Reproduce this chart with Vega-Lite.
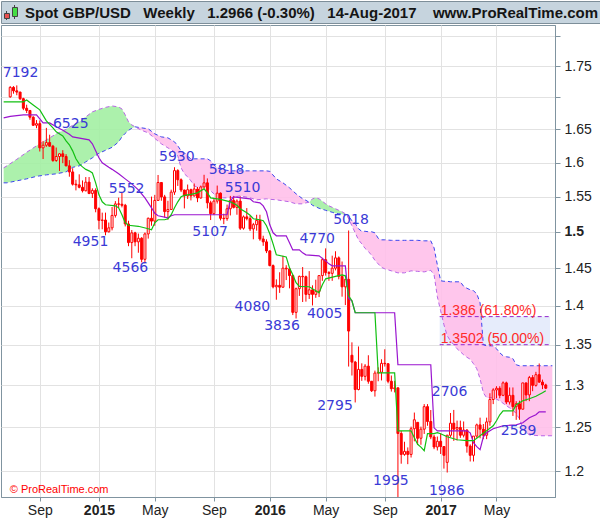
{
  "$schema": "https://vega.github.io/schema/vega-lite/v6.json",
  "padding": 0,
  "spacing": 0,
  "background": "white",
  "config": {
    "view": {"stroke": "#8094a0"},
    "axis": {"labelFont": "Liberation Sans", "labelFontSize": 14, "labelColor": "#222222", "gridColor": "#e2e2e2", "domainColor": "#8094a0", "tickColor": "#8094a0", "title": null}
  },
  "datasets": {
    "candles": [
      {"d":"2014-06-30","o":1.7010,"h":1.7180,"l":1.6995,"c":1.7160},
      {"d":"2014-07-07","o":1.7160,"h":1.7180,"l":1.7060,"c":1.7105},
      {"d":"2014-07-14","o":1.7105,"h":1.7192,"l":1.7035,"c":1.7085},
      {"d":"2014-07-21","o":1.7085,"h":1.7090,"l":1.6960,"c":1.6980},
      {"d":"2014-07-28","o":1.6980,"h":1.6995,"l":1.6800,"c":1.6830},
      {"d":"2014-08-04","o":1.6830,"h":1.6885,"l":1.6755,"c":1.6795},
      {"d":"2014-08-11","o":1.6795,"h":1.6795,"l":1.6650,"c":1.6690},
      {"d":"2014-08-18","o":1.6690,"h":1.6705,"l":1.6555,"c":1.6565},
      {"d":"2014-08-25","o":1.6565,"h":1.6645,"l":1.6520,"c":1.6590},
      {"d":"2014-09-01","o":1.6590,"h":1.6640,"l":1.6165,"c":1.6220},
      {"d":"2014-09-08","o":1.6220,"h":1.6325,"l":1.6052,"c":1.6260},
      {"d":"2014-09-15","o":1.6260,"h":1.6525,"l":1.6235,"c":1.6300},
      {"d":"2014-09-22","o":1.6300,"h":1.6420,"l":1.6240,"c":1.6245},
      {"d":"2014-09-29","o":1.6245,"h":1.6265,"l":1.6010,"c":1.6030},
      {"d":"2014-10-06","o":1.6030,"h":1.6225,"l":1.6010,"c":1.6090},
      {"d":"2014-10-13","o":1.6090,"h":1.6140,"l":1.5875,"c":1.6130},
      {"d":"2014-10-20","o":1.6130,"h":1.6185,"l":1.5990,"c":1.6090},
      {"d":"2014-10-27","o":1.6090,"h":1.6125,"l":1.5945,"c":1.5950},
      {"d":"2014-11-03","o":1.5950,"h":1.6035,"l":1.5790,"c":1.5860},
      {"d":"2014-11-10","o":1.5860,"h":1.5915,"l":1.5660,"c":1.5680},
      {"d":"2014-11-17","o":1.5680,"h":1.5745,"l":1.5590,"c":1.5670},
      {"d":"2014-11-24","o":1.5670,"h":1.5825,"l":1.5620,"c":1.5635},
      {"d":"2014-12-01","o":1.5635,"h":1.5735,"l":1.5560,"c":1.5585},
      {"d":"2014-12-08","o":1.5585,"h":1.5785,"l":1.5575,"c":1.5710},
      {"d":"2014-12-15","o":1.5710,"h":1.5785,"l":1.5535,"c":1.5545},
      {"d":"2014-12-22","o":1.5545,"h":1.5620,"l":1.5480,"c":1.5590},
      {"d":"2014-12-29","o":1.5590,"h":1.5620,"l":1.5275,"c":1.5325},
      {"d":"2015-01-05","o":1.5325,"h":1.5345,"l":1.5035,"c":1.5160},
      {"d":"2015-01-12","o":1.5160,"h":1.5270,"l":1.5035,"c":1.5165},
      {"d":"2015-01-19","o":1.5165,"h":1.5270,"l":1.4951,"c":1.5000},
      {"d":"2015-01-26","o":1.5000,"h":1.5130,"l":1.4990,"c":1.5055},
      {"d":"2015-02-02","o":1.5055,"h":1.5350,"l":1.5020,"c":1.5230},
      {"d":"2015-02-09","o":1.5230,"h":1.5435,"l":1.5200,"c":1.5395},
      {"d":"2015-02-16","o":1.5395,"h":1.5485,"l":1.5335,"c":1.5390},
      {"d":"2015-02-23","o":1.5390,"h":1.5552,"l":1.5345,"c":1.5375},
      {"d":"2015-03-02","o":1.5375,"h":1.5395,"l":1.5075,"c":1.5110},
      {"d":"2015-03-09","o":1.5110,"h":1.5155,"l":1.4800,"c":1.4850},
      {"d":"2015-03-16","o":1.4850,"h":1.5025,"l":1.4635,"c":1.4985},
      {"d":"2015-03-23","o":1.4985,"h":1.5000,"l":1.4800,"c":1.4860},
      {"d":"2015-03-30","o":1.4860,"h":1.4975,"l":1.4710,"c":1.4910},
      {"d":"2015-04-06","o":1.4910,"h":1.4925,"l":1.4580,"c":1.4620},
      {"d":"2015-04-13","o":1.4620,"h":1.4990,"l":1.4566,"c":1.4970},
      {"d":"2015-04-20","o":1.4970,"h":1.5200,"l":1.4905,"c":1.5190},
      {"d":"2015-04-27","o":1.5190,"h":1.5500,"l":1.5085,"c":1.5150},
      {"d":"2015-05-04","o":1.5150,"h":1.5525,"l":1.5085,"c":1.5445},
      {"d":"2015-05-11","o":1.5445,"h":1.5815,"l":1.5440,"c":1.5705},
      {"d":"2015-05-18","o":1.5705,"h":1.5710,"l":1.5440,"c":1.5495},
      {"d":"2015-05-25","o":1.5495,"h":1.5525,"l":1.5200,"c":1.5285},
      {"d":"2015-06-01","o":1.5285,"h":1.5440,"l":1.5170,"c":1.5315},
      {"d":"2015-06-08","o":1.5315,"h":1.5600,"l":1.5310,"c":1.5565},
      {"d":"2015-06-15","o":1.5565,"h":1.5930,"l":1.5525,"c":1.5880},
      {"d":"2015-06-22","o":1.5880,"h":1.5900,"l":1.5655,"c":1.5745},
      {"d":"2015-06-29","o":1.5745,"h":1.5765,"l":1.5565,"c":1.5595},
      {"d":"2015-07-06","o":1.5595,"h":1.5600,"l":1.5330,"c":1.5510},
      {"d":"2015-07-13","o":1.5510,"h":1.5675,"l":1.5465,"c":1.5600},
      {"d":"2015-07-20","o":1.5600,"h":1.5615,"l":1.5445,"c":1.5510},
      {"d":"2015-07-27","o":1.5510,"h":1.5690,"l":1.5500,"c":1.5610},
      {"d":"2015-08-03","o":1.5610,"h":1.5640,"l":1.5420,"c":1.5480},
      {"d":"2015-08-10","o":1.5480,"h":1.5660,"l":1.5470,"c":1.5640},
      {"d":"2015-08-17","o":1.5640,"h":1.5818,"l":1.5615,"c":1.5700},
      {"d":"2015-08-24","o":1.5700,"h":1.5765,"l":1.5330,"c":1.5410},
      {"d":"2015-08-31","o":1.5410,"h":1.5440,"l":1.5165,"c":1.5255},
      {"d":"2015-09-07","o":1.5255,"h":1.5465,"l":1.5235,"c":1.5435},
      {"d":"2015-09-14","o":1.5435,"h":1.5660,"l":1.5400,"c":1.5550},
      {"d":"2015-09-21","o":1.5550,"h":1.5560,"l":1.5160,"c":1.5190},
      {"d":"2015-09-28","o":1.5190,"h":1.5255,"l":1.5107,"c":1.5185},
      {"d":"2015-10-05","o":1.5185,"h":1.5385,"l":1.5155,"c":1.5325},
      {"d":"2015-10-12","o":1.5325,"h":1.5510,"l":1.5230,"c":1.5445},
      {"d":"2015-10-19","o":1.5445,"h":1.5510,"l":1.5330,"c":1.5345},
      {"d":"2015-10-26","o":1.5345,"h":1.5460,"l":1.5240,"c":1.5435},
      {"d":"2015-11-02","o":1.5435,"h":1.5505,"l":1.5025,"c":1.5050},
      {"d":"2015-11-09","o":1.5050,"h":1.5230,"l":1.5030,"c":1.5210},
      {"d":"2015-11-16","o":1.5210,"h":1.5335,"l":1.5160,"c":1.5185},
      {"d":"2015-11-23","o":1.5185,"h":1.5225,"l":1.5010,"c":1.5040},
      {"d":"2015-11-30","o":1.5040,"h":1.5125,"l":1.4895,"c":1.5100},
      {"d":"2015-12-07","o":1.5100,"h":1.5240,"l":1.5015,"c":1.5160},
      {"d":"2015-12-14","o":1.5160,"h":1.5240,"l":1.4875,"c":1.4900},
      {"d":"2015-12-21","o":1.4900,"h":1.4945,"l":1.4805,"c":1.4860},
      {"d":"2015-12-28","o":1.4860,"h":1.4895,"l":1.4705,"c":1.4735},
      {"d":"2016-01-04","o":1.4735,"h":1.4745,"l":1.4525,"c":1.4535},
      {"d":"2016-01-11","o":1.4535,"h":1.4550,"l":1.4230,"c":1.4250},
      {"d":"2016-01-18","o":1.4250,"h":1.4350,"l":1.4080,"c":1.4270},
      {"d":"2016-01-25","o":1.4270,"h":1.4445,"l":1.4170,"c":1.4245},
      {"d":"2016-02-01","o":1.4245,"h":1.4668,"l":1.4240,"c":1.4500},
      {"d":"2016-02-08","o":1.4500,"h":1.4540,"l":1.4340,"c":1.4490},
      {"d":"2016-02-15","o":1.4490,"h":1.4495,"l":1.4230,"c":1.4400},
      {"d":"2016-02-22","o":1.4400,"h":1.4410,"l":1.3880,"c":1.3915},
      {"d":"2016-02-29","o":1.3915,"h":1.4240,"l":1.3836,"c":1.4225},
      {"d":"2016-03-07","o":1.4225,"h":1.4400,"l":1.4130,"c":1.4390},
      {"d":"2016-03-14","o":1.4390,"h":1.4515,"l":1.4050,"c":1.4385},
      {"d":"2016-03-21","o":1.4385,"h":1.4400,"l":1.4055,"c":1.4150},
      {"d":"2016-03-28","o":1.4150,"h":1.4460,"l":1.4090,"c":1.4210},
      {"d":"2016-04-04","o":1.4210,"h":1.4270,"l":1.4005,"c":1.4150},
      {"d":"2016-04-11","o":1.4150,"h":1.4345,"l":1.4105,"c":1.4190},
      {"d":"2016-04-18","o":1.4190,"h":1.4400,"l":1.4115,"c":1.4400},
      {"d":"2016-04-25","o":1.4400,"h":1.4640,"l":1.4330,"c":1.4615},
      {"d":"2016-05-02","o":1.4615,"h":1.4770,"l":1.4400,"c":1.4440},
      {"d":"2016-05-09","o":1.4440,"h":1.4460,"l":1.4330,"c":1.4430},
      {"d":"2016-05-16","o":1.4430,"h":1.4670,"l":1.4330,"c":1.4500},
      {"d":"2016-05-23","o":1.4500,"h":1.4730,"l":1.4470,"c":1.4640},
      {"d":"2016-05-30","o":1.4640,"h":1.4660,"l":1.4350,"c":1.4390},
      {"d":"2016-06-06","o":1.4390,"h":1.4590,"l":1.4120,"c":1.4250},
      {"d":"2016-06-13","o":1.4250,"h":1.4350,"l":1.4010,"c":1.4350},
      {"d":"2016-06-20","o":1.4350,"h":1.5018,"l":1.3230,"c":1.3675},
      {"d":"2016-06-27","o":1.3370,"h":1.3532,"l":1.3120,"c":1.3285},
      {"d":"2016-07-04","o":1.3285,"h":1.3300,"l":1.2795,"c":1.2950},
      {"d":"2016-07-11","o":1.2950,"h":1.3480,"l":1.2940,"c":1.3195},
      {"d":"2016-07-18","o":1.3195,"h":1.3270,"l":1.3055,"c":1.3110},
      {"d":"2016-07-25","o":1.3110,"h":1.3260,"l":1.3060,"c":1.3235},
      {"d":"2016-08-01","o":1.3235,"h":1.3370,"l":1.3020,"c":1.3050},
      {"d":"2016-08-08","o":1.3050,"h":1.3050,"l":1.2920,"c":1.2935},
      {"d":"2016-08-15","o":1.2935,"h":1.3180,"l":1.2865,"c":1.3150},
      {"d":"2016-08-22","o":1.3150,"h":1.3220,"l":1.3050,"c":1.3160},
      {"d":"2016-08-29","o":1.3160,"h":1.3320,"l":1.3060,"c":1.3270},
      {"d":"2016-09-05","o":1.3270,"h":1.3445,"l":1.3230,"c":1.3265},
      {"d":"2016-09-12","o":1.3265,"h":1.3270,"l":1.3025,"c":1.3050},
      {"d":"2016-09-19","o":1.3050,"h":1.3120,"l":1.2925,"c":1.2960},
      {"d":"2016-09-26","o":1.2960,"h":1.3055,"l":1.2915,"c":1.2970},
      {"d":"2016-10-03","o":1.2970,"h":1.2975,"l":1.1491,"c":1.2430},
      {"d":"2016-10-10","o":1.2430,"h":1.2460,"l":1.2085,"c":1.2190},
      {"d":"2016-10-17","o":1.2190,"h":1.2335,"l":1.2175,"c":1.2225},
      {"d":"2016-10-24","o":1.2225,"h":1.2270,"l":1.2080,"c":1.2190},
      {"d":"2016-10-31","o":1.2190,"h":1.2510,"l":1.2155,"c":1.2485},
      {"d":"2016-11-07","o":1.2485,"h":1.2675,"l":1.2340,"c":1.2590},
      {"d":"2016-11-14","o":1.2560,"h":1.2560,"l":1.2300,"c":1.2375},
      {"d":"2016-11-21","o":1.2375,"h":1.2510,"l":1.2300,"c":1.2480},
      {"d":"2016-11-28","o":1.2480,"h":1.2775,"l":1.2425,"c":1.2745},
      {"d":"2016-12-05","o":1.2745,"h":1.2775,"l":1.2520,"c":1.2570},
      {"d":"2016-12-12","o":1.2570,"h":1.2705,"l":1.2365,"c":1.2390},
      {"d":"2016-12-19","o":1.2390,"h":1.2415,"l":1.2250,"c":1.2275},
      {"d":"2016-12-26","o":1.2275,"h":1.2395,"l":1.2235,"c":1.2340},
      {"d":"2017-01-02","o":1.2340,"h":1.2430,"l":1.2195,"c":1.2280},
      {"d":"2017-01-09","o":1.2280,"h":1.2280,"l":1.2030,"c":1.2180},
      {"d":"2017-01-16","o":1.2100,"h":1.2415,"l":1.1986,"c":1.2410},
      {"d":"2017-01-23","o":1.2410,"h":1.2670,"l":1.2390,"c":1.2550},
      {"d":"2017-01-30","o":1.2550,"h":1.2706,"l":1.2345,"c":1.2480},
      {"d":"2017-02-06","o":1.2480,"h":1.2580,"l":1.2350,"c":1.2500},
      {"d":"2017-02-13","o":1.2500,"h":1.2580,"l":1.2380,"c":1.2410},
      {"d":"2017-02-20","o":1.2410,"h":1.2570,"l":1.2385,"c":1.2470},
      {"d":"2017-02-27","o":1.2470,"h":1.2480,"l":1.2210,"c":1.2285},
      {"d":"2017-03-06","o":1.2285,"h":1.2305,"l":1.2110,"c":1.2180},
      {"d":"2017-03-13","o":1.2180,"h":1.2400,"l":1.2110,"c":1.2400},
      {"d":"2017-03-20","o":1.2400,"h":1.2545,"l":1.2380,"c":1.2530},
      {"d":"2017-03-27","o":1.2530,"h":1.2615,"l":1.2375,"c":1.2480},
      {"d":"2017-04-03","o":1.2480,"h":1.2540,"l":1.2365,"c":1.2410},
      {"d":"2017-04-10","o":1.2410,"h":1.2615,"l":1.2365,"c":1.2565},
      {"d":"2017-04-17","o":1.2565,"h":1.2905,"l":1.2520,"c":1.2830},
      {"d":"2017-04-24","o":1.2830,"h":1.2965,"l":1.2775,"c":1.2945},
      {"d":"2017-05-01","o":1.2945,"h":1.2990,"l":1.2845,"c":1.2965},
      {"d":"2017-05-08","o":1.2965,"h":1.2990,"l":1.2845,"c":1.2880},
      {"d":"2017-05-15","o":1.2880,"h":1.3048,"l":1.2870,"c":1.3030},
      {"d":"2017-05-22","o":1.3030,"h":1.3045,"l":1.2775,"c":1.2800},
      {"d":"2017-05-29","o":1.2800,"h":1.2975,"l":1.2770,"c":1.2880},
      {"d":"2017-06-05","o":1.2880,"h":1.2975,"l":1.2635,"c":1.2745},
      {"d":"2017-06-12","o":1.2745,"h":1.2810,"l":1.2589,"c":1.2780},
      {"d":"2017-06-19","o":1.2780,"h":1.2815,"l":1.2590,"c":1.2715},
      {"d":"2017-06-26","o":1.2715,"h":1.3030,"l":1.2710,"c":1.3030},
      {"d":"2017-07-03","o":1.3030,"h":1.3030,"l":1.2810,"c":1.2885},
      {"d":"2017-07-10","o":1.2885,"h":1.3115,"l":1.2810,"c":1.3095},
      {"d":"2017-07-17","o":1.3095,"h":1.3125,"l":1.2930,"c":1.3000},
      {"d":"2017-07-24","o":1.3000,"h":1.3165,"l":1.2985,"c":1.3130},
      {"d":"2017-07-31","o":1.3130,"h":1.3268,"l":1.3030,"c":1.3040},
      {"d":"2017-08-07","o":1.3040,"h":1.3070,"l":1.2955,"c":1.3005},
      {"d":"2017-08-14","o":1.3005,"h":1.3020,"l":1.2955,"c":1.2966}
    ],
    "cloud": [
      {"d":"2014-06-16","a":1.5921,"b":1.5700,"seg":"g1","kind":"up"},
      {"d":"2014-06-23","a":1.5950,"b":1.5700,"seg":"g1","kind":"up"},
      {"d":"2014-07-14","a":1.6048,"b":1.5729,"seg":"g1","kind":"up"},
      {"d":"2014-08-04","a":1.6153,"b":1.5758,"seg":"g1","kind":"up"},
      {"d":"2014-08-25","a":1.6251,"b":1.5795,"seg":"g1","kind":"up"},
      {"d":"2014-09-15","a":1.6341,"b":1.5817,"seg":"g1","kind":"up"},
      {"d":"2014-10-06","a":1.6433,"b":1.5832,"seg":"g1","kind":"up"},
      {"d":"2014-10-27","a":1.6502,"b":1.5861,"seg":"g1","kind":"up"},
      {"d":"2014-11-10","a":1.6564,"b":1.5928,"seg":"g1","kind":"up"},
      {"d":"2014-11-24","a":1.6618,"b":1.5950,"seg":"g1","kind":"up"},
      {"d":"2014-12-08","a":1.6695,"b":1.6010,"seg":"g1","kind":"up"},
      {"d":"2014-12-22","a":1.6773,"b":1.6070,"seg":"g1","kind":"up"},
      {"d":"2015-01-05","a":1.6812,"b":1.6138,"seg":"g1","kind":"up"},
      {"d":"2015-01-19","a":1.6843,"b":1.6183,"seg":"g1","kind":"up"},
      {"d":"2015-02-02","a":1.6866,"b":1.6228,"seg":"g1","kind":"up"},
      {"d":"2015-02-16","a":1.6850,"b":1.6311,"seg":"g1","kind":"up"},
      {"d":"2015-02-23","a":1.6819,"b":1.6387,"seg":"g1","kind":"up"},
      {"d":"2015-03-02","a":1.6726,"b":1.6441,"seg":"g1","kind":"up"},
      {"d":"2015-03-09","a":1.6618,"b":1.6487,"seg":"g1","kind":"up"},
      {"d":"2015-03-16","a":1.6571,"b":1.6518,"seg":"g1","kind":"up"},
      {"d":"2015-03-23","a":1.6541,"b":1.6541,"seg":"g1","kind":"up"},
      {"d":"2015-03-23","a":1.6541,"b":1.6541,"seg":"p1","kind":"down"},
      {"d":"2015-04-06","a":1.6487,"b":1.6525,"seg":"p1","kind":"down"},
      {"d":"2015-04-20","a":1.6448,"b":1.6510,"seg":"p1","kind":"down"},
      {"d":"2015-05-04","a":1.6364,"b":1.6433,"seg":"p1","kind":"down"},
      {"d":"2015-05-18","a":1.6281,"b":1.6387,"seg":"p1","kind":"down"},
      {"d":"2015-06-01","a":1.6220,"b":1.6372,"seg":"p1","kind":"down"},
      {"d":"2015-06-15","a":1.6160,"b":1.6311,"seg":"p1","kind":"down"},
      {"d":"2015-06-22","a":1.6100,"b":1.6251,"seg":"p1","kind":"down"},
      {"d":"2015-06-29","a":1.5921,"b":1.6175,"seg":"p1","kind":"down"},
      {"d":"2015-07-06","a":1.5832,"b":1.6145,"seg":"p1","kind":"down"},
      {"d":"2015-07-13","a":1.5788,"b":1.6093,"seg":"p1","kind":"down"},
      {"d":"2015-07-20","a":1.5729,"b":1.6055,"seg":"p1","kind":"down"},
      {"d":"2015-07-27","a":1.5656,"b":1.6055,"seg":"p1","kind":"down"},
      {"d":"2015-08-03","a":1.5634,"b":1.6055,"seg":"p1","kind":"down"},
      {"d":"2015-08-10","a":1.5627,"b":1.6055,"seg":"p1","kind":"down"},
      {"d":"2015-08-17","a":1.5656,"b":1.6055,"seg":"p1","kind":"down"},
      {"d":"2015-08-24","a":1.5627,"b":1.6055,"seg":"p1","kind":"down"},
      {"d":"2015-08-31","a":1.5583,"b":1.6025,"seg":"p1","kind":"down"},
      {"d":"2015-09-07","a":1.5540,"b":1.5965,"seg":"p1","kind":"down"},
      {"d":"2015-09-14","a":1.5482,"b":1.5921,"seg":"p1","kind":"down"},
      {"d":"2015-09-28","a":1.5482,"b":1.5891,"seg":"p1","kind":"down"},
      {"d":"2015-10-12","a":1.5482,"b":1.5876,"seg":"p1","kind":"down"},
      {"d":"2015-11-02","a":1.5511,"b":1.5876,"seg":"p1","kind":"down"},
      {"d":"2015-11-23","a":1.5482,"b":1.5876,"seg":"p1","kind":"down"},
      {"d":"2015-12-07","a":1.5454,"b":1.5876,"seg":"p1","kind":"down"},
      {"d":"2015-12-28","a":1.5468,"b":1.5876,"seg":"p1","kind":"down"},
      {"d":"2016-01-04","a":1.5461,"b":1.5869,"seg":"p1","kind":"down"},
      {"d":"2016-01-18","a":1.5454,"b":1.5758,"seg":"p1","kind":"down"},
      {"d":"2016-02-01","a":1.5439,"b":1.5700,"seg":"p1","kind":"down"},
      {"d":"2016-02-15","a":1.5425,"b":1.5627,"seg":"p1","kind":"down"},
      {"d":"2016-02-29","a":1.5396,"b":1.5540,"seg":"p1","kind":"down"},
      {"d":"2016-03-14","a":1.5396,"b":1.5468,"seg":"p1","kind":"down"},
      {"d":"2016-03-21","a":1.5410,"b":1.5446,"seg":"p1","kind":"down"},
      {"d":"2016-03-28","a":1.5418,"b":1.5418,"seg":"p1","kind":"down"},
      {"d":"2016-03-28","a":1.5418,"b":1.5418,"seg":"g2","kind":"up"},
      {"d":"2016-04-04","a":1.5468,"b":1.5375,"seg":"g2","kind":"up"},
      {"d":"2016-04-11","a":1.5482,"b":1.5353,"seg":"g2","kind":"up"},
      {"d":"2016-04-18","a":1.5468,"b":1.5332,"seg":"g2","kind":"up"},
      {"d":"2016-04-25","a":1.5432,"b":1.5318,"seg":"g2","kind":"up"},
      {"d":"2016-05-02","a":1.5396,"b":1.5303,"seg":"g2","kind":"up"},
      {"d":"2016-05-09","a":1.5367,"b":1.5289,"seg":"g2","kind":"up"},
      {"d":"2016-05-16","a":1.5346,"b":1.5275,"seg":"g2","kind":"up"},
      {"d":"2016-05-23","a":1.5325,"b":1.5261,"seg":"g2","kind":"up"},
      {"d":"2016-05-30","a":1.5303,"b":1.5254,"seg":"g2","kind":"up"},
      {"d":"2016-06-06","a":1.5282,"b":1.5247,"seg":"g2","kind":"up"},
      {"d":"2016-06-13","a":1.5254,"b":1.5240,"seg":"g2","kind":"up"},
      {"d":"2016-06-16","a":1.5240,"b":1.5240,"seg":"g2","kind":"up"},
      {"d":"2016-06-16","a":1.5240,"b":1.5240,"seg":"p2","kind":"down"},
      {"d":"2016-06-20","a":1.5183,"b":1.5219,"seg":"p2","kind":"down"},
      {"d":"2016-06-27","a":1.5084,"b":1.5155,"seg":"p2","kind":"down"},
      {"d":"2016-07-04","a":1.4986,"b":1.5119,"seg":"p2","kind":"down"},
      {"d":"2016-07-11","a":1.4888,"b":1.5042,"seg":"p2","kind":"down"},
      {"d":"2016-07-18","a":1.4832,"b":1.5007,"seg":"p2","kind":"down"},
      {"d":"2016-07-25","a":1.4770,"b":1.5007,"seg":"p2","kind":"down"},
      {"d":"2016-08-01","a":1.4729,"b":1.5000,"seg":"p2","kind":"down"},
      {"d":"2016-08-08","a":1.4674,"b":1.5000,"seg":"p2","kind":"down"},
      {"d":"2016-08-15","a":1.4606,"b":1.4986,"seg":"p2","kind":"down"},
      {"d":"2016-08-22","a":1.4558,"b":1.4909,"seg":"p2","kind":"down"},
      {"d":"2016-08-29","a":1.4511,"b":1.4888,"seg":"p2","kind":"down"},
      {"d":"2016-09-05","a":1.4491,"b":1.4888,"seg":"p2","kind":"down"},
      {"d":"2016-09-19","a":1.4464,"b":1.4881,"seg":"p2","kind":"down"},
      {"d":"2016-10-03","a":1.4437,"b":1.4881,"seg":"p2","kind":"down"},
      {"d":"2016-10-17","a":1.4437,"b":1.4881,"seg":"p2","kind":"down"},
      {"d":"2016-10-31","a":1.4464,"b":1.4881,"seg":"p2","kind":"down"},
      {"d":"2016-11-14","a":1.4457,"b":1.4881,"seg":"p2","kind":"down"},
      {"d":"2016-11-28","a":1.4450,"b":1.4874,"seg":"p2","kind":"down"},
      {"d":"2016-12-12","a":1.4471,"b":1.4874,"seg":"p2","kind":"down"},
      {"d":"2016-12-19","a":1.4410,"b":1.4777,"seg":"p2","kind":"down"},
      {"d":"2016-12-26","a":1.4119,"b":1.4545,"seg":"p2","kind":"down"},
      {"d":"2017-01-02","a":1.3936,"b":1.4331,"seg":"p2","kind":"down"},
      {"d":"2017-01-09","a":1.3756,"b":1.4324,"seg":"p2","kind":"down"},
      {"d":"2017-01-16","a":1.3615,"b":1.4324,"seg":"p2","kind":"down"},
      {"d":"2017-01-23","a":1.3551,"b":1.4317,"seg":"p2","kind":"down"},
      {"d":"2017-01-30","a":1.3501,"b":1.4317,"seg":"p2","kind":"down"},
      {"d":"2017-02-06","a":1.3451,"b":1.4317,"seg":"p2","kind":"down"},
      {"d":"2017-02-13","a":1.3414,"b":1.4317,"seg":"p2","kind":"down"},
      {"d":"2017-02-20","a":1.3376,"b":1.4257,"seg":"p2","kind":"down"},
      {"d":"2017-02-27","a":1.3345,"b":1.4231,"seg":"p2","kind":"down"},
      {"d":"2017-03-06","a":1.3321,"b":1.4211,"seg":"p2","kind":"down"},
      {"d":"2017-03-13","a":1.3265,"b":1.4198,"seg":"p2","kind":"down"},
      {"d":"2017-03-20","a":1.3203,"b":1.4158,"seg":"p2","kind":"down"},
      {"d":"2017-03-27","a":1.3080,"b":1.4040,"seg":"p2","kind":"down"},
      {"d":"2017-04-03","a":1.2911,"b":1.3501,"seg":"p2","kind":"down"},
      {"d":"2017-04-10","a":1.2851,"b":1.3488,"seg":"p2","kind":"down"},
      {"d":"2017-04-24","a":1.2851,"b":1.3488,"seg":"p2","kind":"down"},
      {"d":"2017-05-01","a":1.2833,"b":1.3451,"seg":"p2","kind":"down"},
      {"d":"2017-05-08","a":1.2815,"b":1.3401,"seg":"p2","kind":"down"},
      {"d":"2017-05-15","a":1.2785,"b":1.3364,"seg":"p2","kind":"down"},
      {"d":"2017-05-22","a":1.2755,"b":1.3351,"seg":"p2","kind":"down"},
      {"d":"2017-05-29","a":1.2731,"b":1.3345,"seg":"p2","kind":"down"},
      {"d":"2017-06-05","a":1.2708,"b":1.3327,"seg":"p2","kind":"down"},
      {"d":"2017-06-12","a":1.2660,"b":1.3252,"seg":"p2","kind":"down"},
      {"d":"2017-06-19","a":1.2602,"b":1.3240,"seg":"p2","kind":"down"},
      {"d":"2017-06-26","a":1.2485,"b":1.3240,"seg":"p2","kind":"down"},
      {"d":"2017-07-03","a":1.2444,"b":1.3240,"seg":"p2","kind":"down"},
      {"d":"2017-07-10","a":1.2415,"b":1.3240,"seg":"p2","kind":"down"},
      {"d":"2017-07-31","a":1.2404,"b":1.3240,"seg":"p2","kind":"down"},
      {"d":"2017-08-28","a":1.2404,"b":1.3240,"seg":"p2","kind":"down"}
    ],
    "tenkan": [
      {"d":"2014-06-16","v":1.6929},{"d":"2014-07-28","v":1.6929},{"d":"2014-08-04","v":1.6961},
      {"d":"2014-08-18","v":1.6882},{"d":"2014-09-01","v":1.6804},{"d":"2014-09-15","v":1.6633},
      {"d":"2014-09-29","v":1.6525},{"d":"2014-10-06","v":1.6464},{"d":"2014-10-20","v":1.6402},
      {"d":"2014-10-27","v":1.6326},{"d":"2014-11-03","v":1.6266},{"d":"2014-11-10","v":1.6175},
      {"d":"2014-11-17","v":1.6055},{"d":"2014-11-24","v":1.5980},{"d":"2014-12-01","v":1.5935},
      {"d":"2014-12-08","v":1.5898},{"d":"2014-12-15","v":1.5876},{"d":"2014-12-22","v":1.5846},
      {"d":"2014-12-29","v":1.5700},{"d":"2015-01-05","v":1.5526},{"d":"2015-01-12","v":1.5425},
      {"d":"2015-01-19","v":1.5382},{"d":"2015-02-09","v":1.5367},{"d":"2015-02-16","v":1.5339},
      {"d":"2015-02-23","v":1.5240},{"d":"2015-03-02","v":1.5126},{"d":"2015-03-09","v":1.5091},
      {"d":"2015-03-30","v":1.5077},{"d":"2015-04-20","v":1.5042},{"d":"2015-04-27","v":1.5028},
      {"d":"2015-05-04","v":1.5126},{"d":"2015-05-11","v":1.5169},{"d":"2015-05-25","v":1.5169},
      {"d":"2015-06-01","v":1.5183},{"d":"2015-06-08","v":1.5240},{"d":"2015-06-15","v":1.5339},
      {"d":"2015-06-22","v":1.5425},{"d":"2015-06-29","v":1.5497},{"d":"2015-07-06","v":1.5518},
      {"d":"2015-07-20","v":1.5533},{"d":"2015-08-03","v":1.5554},{"d":"2015-08-10","v":1.5583},
      {"d":"2015-08-17","v":1.5612},{"d":"2015-08-24","v":1.5554},{"d":"2015-08-31","v":1.5482},
      {"d":"2015-09-21","v":1.5461},{"d":"2015-10-12","v":1.5425},{"d":"2015-10-26","v":1.5375},
      {"d":"2015-11-02","v":1.5325},{"d":"2015-11-16","v":1.5268},{"d":"2015-11-23","v":1.5233},
      {"d":"2015-11-30","v":1.5183},{"d":"2015-12-14","v":1.5169},{"d":"2015-12-21","v":1.5155},
      {"d":"2015-12-28","v":1.5084},{"d":"2016-01-04","v":1.4972},{"d":"2016-01-11","v":1.4832},
      {"d":"2016-01-18","v":1.4681},{"d":"2016-02-08","v":1.4653},{"d":"2016-02-15","v":1.4504},
      {"d":"2016-02-22","v":1.4410},{"d":"2016-02-29","v":1.4304},{"d":"2016-03-07","v":1.4257},
      {"d":"2016-03-28","v":1.4251},{"d":"2016-04-11","v":1.4198},{"d":"2016-04-18","v":1.4171},
      {"d":"2016-04-25","v":1.4277},{"d":"2016-05-02","v":1.4357},{"d":"2016-05-23","v":1.4390},
      {"d":"2016-06-06","v":1.4410},{"d":"2016-06-13","v":1.4397},{"d":"2016-06-20","v":1.4132},
      {"d":"2016-06-27","v":1.4066},{"d":"2016-07-04","v":1.3910},{"d":"2016-08-15","v":1.3910},
      {"d":"2016-08-22","v":1.3153},{"d":"2016-09-26","v":1.3153},{"d":"2016-10-03","v":1.2461},
      {"d":"2016-10-31","v":1.2461},{"d":"2016-11-07","v":1.2380},{"d":"2016-11-14","v":1.2306},
      {"d":"2016-11-21","v":1.2273},{"d":"2016-11-28","v":1.2233},{"d":"2016-12-05","v":1.2428},
      {"d":"2016-12-19","v":1.2428},{"d":"2016-12-26","v":1.2440},{"d":"2017-01-02","v":1.2427},
      {"d":"2017-01-16","v":1.2392},{"d":"2017-02-06","v":1.2358},{"d":"2017-02-27","v":1.2347},
      {"d":"2017-03-13","v":1.2347},{"d":"2017-03-27","v":1.2404},{"d":"2017-04-10","v":1.2461},
      {"d":"2017-04-24","v":1.2520},{"d":"2017-05-01","v":1.2578},{"d":"2017-05-08","v":1.2649},
      {"d":"2017-05-15","v":1.2696},{"d":"2017-06-05","v":1.2696},{"d":"2017-06-12","v":1.2767},
      {"d":"2017-06-26","v":1.2815},{"d":"2017-07-10","v":1.2839},{"d":"2017-07-24","v":1.2869},
      {"d":"2017-08-07","v":1.2911},{"d":"2017-08-14","v":1.2935}
    ],
    "kijun": [
      {"d":"2014-06-16","v":1.6680},{"d":"2014-06-30","v":1.6703},{"d":"2014-07-28","v":1.6726},
      {"d":"2014-08-25","v":1.6726},{"d":"2014-09-01","v":1.6664},{"d":"2014-09-08","v":1.6602},
      {"d":"2014-09-22","v":1.6602},{"d":"2014-10-06","v":1.6541},{"d":"2014-10-20","v":1.6487},
      {"d":"2014-11-03","v":1.6426},{"d":"2014-11-10","v":1.6387},{"d":"2014-12-15","v":1.6341},
      {"d":"2014-12-22","v":1.6281},{"d":"2014-12-29","v":1.6175},{"d":"2015-01-05","v":1.6070},
      {"d":"2015-01-12","v":1.5995},{"d":"2015-01-26","v":1.5928},{"d":"2015-02-02","v":1.5898},
      {"d":"2015-02-16","v":1.5832},{"d":"2015-03-02","v":1.5758},{"d":"2015-03-16","v":1.5685},
      {"d":"2015-03-30","v":1.5598},{"d":"2015-04-13","v":1.5482},{"d":"2015-04-20","v":1.5410},
      {"d":"2015-04-27","v":1.5339},{"d":"2015-05-04","v":1.5261},{"d":"2015-05-11","v":1.5226},
      {"d":"2015-06-01","v":1.5197},{"d":"2015-06-08","v":1.5226},{"d":"2015-06-15","v":1.5240},
      {"d":"2015-10-05","v":1.5240},{"d":"2015-10-12","v":1.5439},{"d":"2015-10-19","v":1.5497},
      {"d":"2015-11-23","v":1.5468},{"d":"2015-11-30","v":1.5425},{"d":"2015-12-14","v":1.5410},
      {"d":"2015-12-21","v":1.5367},{"d":"2015-12-28","v":1.5282},{"d":"2016-01-04","v":1.5098},
      {"d":"2016-01-11","v":1.4986},{"d":"2016-01-18","v":1.4944},{"d":"2016-02-08","v":1.4944},
      {"d":"2016-02-15","v":1.4846},{"d":"2016-02-22","v":1.4749},{"d":"2016-03-07","v":1.4749},
      {"d":"2016-03-14","v":1.4708},{"d":"2016-03-21","v":1.4681},{"d":"2016-04-18","v":1.4667},
      {"d":"2016-05-02","v":1.4599},{"d":"2016-05-09","v":1.4558},{"d":"2016-05-16","v":1.4531},
      {"d":"2016-06-13","v":1.4531},{"d":"2016-06-20","v":1.4093},{"d":"2016-06-27","v":1.4066},
      {"d":"2016-07-04","v":1.3910},{"d":"2016-09-26","v":1.3910},{"d":"2016-10-03","v":1.3252},
      {"d":"2016-12-12","v":1.3252},{"d":"2016-12-19","v":1.2496},{"d":"2016-12-26","v":1.2461},
      {"d":"2017-02-27","v":1.2461},{"d":"2017-03-06","v":1.2438},{"d":"2017-03-13","v":1.2324},
      {"d":"2017-03-20","v":1.2278},{"d":"2017-03-27","v":1.2244},{"d":"2017-04-03","v":1.2392},
      {"d":"2017-04-10","v":1.2438},{"d":"2017-04-17","v":1.2461},{"d":"2017-04-24","v":1.2485},
      {"d":"2017-05-15","v":1.2520},{"d":"2017-06-12","v":1.2531},{"d":"2017-06-26","v":1.2555},
      {"d":"2017-07-10","v":1.2613},{"d":"2017-07-24","v":1.2649},{"d":"2017-07-31","v":1.2684},
      {"d":"2017-08-14","v":1.2684}
    ],
    "pivots": [
      {"d":"2014-07-22","p":1.7392,"t":"7192"},
      {"d":"2014-11-06","p":1.6587,"t":"6525"},
      {"d":"2015-06-20","p":1.6078,"t":"5930"},
      {"d":"2015-03-05","p":1.5605,"t":"5552"},
      {"d":"2014-12-18","p":1.4853,"t":"4951"},
      {"d":"2015-03-13","p":1.4504,"t":"4566"},
      {"d":"2015-10-04","p":1.5883,"t":"5818"},
      {"d":"2015-11-07","p":1.5619,"t":"5510"},
      {"d":"2015-08-30","p":1.5000,"t":"5107"},
      {"d":"2016-06-25","p":1.5169,"t":"5018"},
      {"d":"2016-04-14","p":1.4902,"t":"4770"},
      {"d":"2015-11-28","p":1.3988,"t":"4080"},
      {"d":"2016-01-30","p":1.3743,"t":"3836"},
      {"d":"2016-04-30","p":1.3897,"t":"4005"},
      {"d":"2016-05-22","p":1.2755,"t":"2795"},
      {"d":"2016-09-18","p":1.1892,"t":"1995"},
      {"d":"2017-01-15","p":1.1783,"t":"1986"},
      {"d":"2017-01-21","p":1.2923,"t":"2706"},
      {"d":"2017-06-17","p":1.2461,"t":"2589"}
    ],
    "fib": [
      {"d":"2016-12-31","d2":"2017-08-23","v":1.386,"t":"1.386 (61.80%)"},
      {"d":"2016-12-31","d2":"2017-08-23","v":1.3502,"t":"1.3502 (50.00%)"}
    ]
  },
  "vconcat": [
    {
      "width": 600,
      "height": 22,
      "view": {"fill": "#c6d4de", "stroke": "#7d8e99"},
      "data": {"values": [{"left": "Spot GBP/USD\u00a0\u00a0\u00a0Weekly\u00a0\u00a0\u00a01.2966 (-0.30%)\u00a0\u00a0\u00a014-Aug-2017", "right": "www.ProRealTime.com"}]},
      "layer": [
        {"mark": {"type": "rule", "color": "#444444", "strokeWidth": 1},
         "encoding": {"x": {"value": 5.5}, "y": {"value": 10}, "y2": {"value": 19}}},
        {"mark": {"type": "rect", "fill": "#e85050", "stroke": "#444444", "strokeWidth": 1},
         "encoding": {"x": {"value": 3.5}, "x2": {"value": 8.5}, "y": {"value": 12.5}, "y2": {"value": 17.5}}},
        {"mark": {"type": "rule", "color": "#444444", "strokeWidth": 1},
         "encoding": {"x": {"value": 13.5}, "y": {"value": 4}, "y2": {"value": 18}}},
        {"mark": {"type": "rect", "fill": "#44dd44", "stroke": "#444444", "strokeWidth": 1},
         "encoding": {"x": {"value": 11.5}, "x2": {"value": 16.5}, "y": {"value": 6.5}, "y2": {"value": 15.5}}},
        {"mark": {"type": "text", "font": "Liberation Sans", "fontWeight": "bold", "fontSize": 15, "color": "#151515", "align": "left", "baseline": "alphabetic"},
         "encoding": {"text": {"field": "left"}, "x": {"value": 24}, "y": {"value": 17}}},
        {"mark": {"type": "text", "font": "Liberation Sans", "fontWeight": "bold", "fontSize": 15, "color": "#151515", "align": "right", "baseline": "alphabetic"},
         "encoding": {"text": {"field": "right"}, "x": {"value": 597}, "y": {"value": 17}}}
      ]
    },
    {
      "width": 554,
      "height": 472,
      "encoding": {
        "x": {"field": "d", "type": "temporal", "title": null,
              "scale": {"type": "utc", "domain": [{"year": 2014, "month": 6, "date": 21, "utc": true}, {"year": 2017, "month": 8, "date": 23, "utc": true}]},
              "axis": {"values": [{"year": 2014, "month": 9, "date": 1, "utc": true}, {"year": 2015, "month": 1, "date": 5, "utc": true}, {"year": 2015, "month": 5, "date": 4, "utc": true}, {"year": 2015, "month": 9, "date": 7, "utc": true}, {"year": 2016, "month": 1, "date": 4, "utc": true}, {"year": 2016, "month": 5, "date": 2, "utc": true}, {"year": 2016, "month": 9, "date": 5, "utc": true}, {"year": 2017, "month": 1, "date": 2, "utc": true}, {"year": 2017, "month": 5, "date": 1, "utc": true}],
                       "labelExpr": "utcFormat(datum.value, utcmonth(datum.value) == 0 ? '%Y' : '%b')",
                       "labelFontWeight": {"condition": {"test": "utcmonth(datum.value) == 0", "value": "bold"}, "value": "normal"},
                       "labelFontSize": 14, "tickSize": 4, "labelPadding": 2, "grid": true, "labelOverlap": false, "labelFlush": false, "labelBound": false}}
      },
      "layer": [
        {"data": {"name": "fib"},
         "mark": {"type": "rect", "fill": "#e6ecfb"},
         "encoding": {"x2": {"field": "d2"},
                      "y": {"aggregate": "min", "field": "v", "type": "quantitative", "title": null,
                            "scale": {"type": "log", "domain": [1.1716, 1.8187], "nice": false, "zero": false},
                            "axis": {"orient": "right", "values": [1.2, 1.25, 1.3, 1.35, 1.4, 1.45, 1.5, 1.55, 1.6, 1.65, 1.7, 1.75, 1.8],
                                     "labelExpr": "abs(datum.value-1.7) < 0.001 || abs(datum.value-1.8) < 0.001 ? '' : format(datum.value, '.2~f')",
                                     "labelFontWeight": {"condition": {"test": "abs(datum.value-1.5) < 0.001", "value": "bold"}, "value": "normal"},
                                     "tickSize": 5, "labelPadding": 4, "grid": true, "labelFontSize": 14}},
                      "y2": {"aggregate": "max", "field": "v"},
                      "x": {"aggregate": "min", "field": "d", "type": "temporal"},
                      "detail": {"field": "d2", "type": "temporal"}}},
        {"data": {"name": "cloud"},
         "mark": {"type": "area", "clip": true, "opacity": 0.9},
         "encoding": {"y": {"field": "a", "type": "quantitative", "title": null},
                      "y2": {"field": "b"},
                      "fill": {"field": "kind", "type": "nominal", "scale": {"domain": ["up", "down"], "range": ["#a3f0a3", "#ffc0ea"]}, "legend": null},
                      "detail": {"field": "seg"}}},
        {"data": {"name": "fib"},
         "mark": {"type": "rule", "color": "#9326cc", "strokeWidth": 1, "strokeDash": [4, 3]},
         "encoding": {"x2": {"field": "d2"}, "y": {"field": "v", "type": "quantitative", "title": null}}},
        {"data": {"name": "cloud"},
         "mark": {"type": "line", "clip": true, "color": "#3b45ee", "strokeWidth": 1, "strokeDash": [4, 3]},
         "encoding": {"y": {"field": "b", "type": "quantitative", "title": null}}},
        {"data": {"name": "cloud"},
         "mark": {"type": "line", "clip": true, "color": "#b865e6", "strokeWidth": 1, "strokeDash": [4, 3]},
         "encoding": {"y": {"field": "a", "type": "quantitative", "title": null}}},
        {"data": {"name": "candles"},
         "mark": {"type": "rule", "clip": true, "color": "#ff0000", "strokeWidth": 1},
         "encoding": {"y": {"field": "l", "type": "quantitative", "title": null}, "y2": {"field": "h"}}},
        {"data": {"name": "candles"},
         "mark": {"type": "bar", "clip": true, "size": 2, "stroke": "#ff0000", "strokeWidth": 1},
         "encoding": {"y": {"field": "o", "type": "quantitative", "title": null}, "y2": {"field": "c"},
                      "fill": {"condition": {"test": "datum.c < datum.o", "value": "#ff0000"}, "value": "#ffffff"}}},
        {"data": {"name": "kijun"},
         "mark": {"type": "line", "clip": true, "color": "#9a14cf", "strokeWidth": 1.2},
         "encoding": {"y": {"field": "v", "type": "quantitative", "title": null}}},
        {"data": {"name": "tenkan"},
         "mark": {"type": "line", "clip": true, "color": "#12c012", "strokeWidth": 1.2},
         "encoding": {"y": {"field": "v", "type": "quantitative", "title": null}}},
        {"data": {"name": "pivots"},
         "mark": {"type": "text", "font": "DejaVu Sans", "fontSize": 14, "color": "#3a3ad6", "align": "center", "baseline": "middle"},
         "encoding": {"y": {"field": "p", "type": "quantitative", "title": null}, "text": {"field": "t"}}},
        {"data": {"name": "fib"},
         "mark": {"type": "text", "font": "Liberation Sans", "fontSize": 14, "color": "#ff2a2a", "align": "left", "baseline": "alphabetic", "dx": 1, "dy": -2},
         "encoding": {"y": {"field": "v", "type": "quantitative", "title": null}, "text": {"field": "t"}}},
        {"data": {"values": [{"d": "2014-06-29", "p": 1.1760, "t": "\u00a9 ProRealTime.com"}]},
         "mark": {"type": "text", "font": "Liberation Sans", "fontSize": 11, "color": "#ff0000", "align": "left", "baseline": "alphabetic"},
         "encoding": {"y": {"field": "p", "type": "quantitative", "title": null}, "text": {"field": "t"}}}
      ]
    }
  ]
}
